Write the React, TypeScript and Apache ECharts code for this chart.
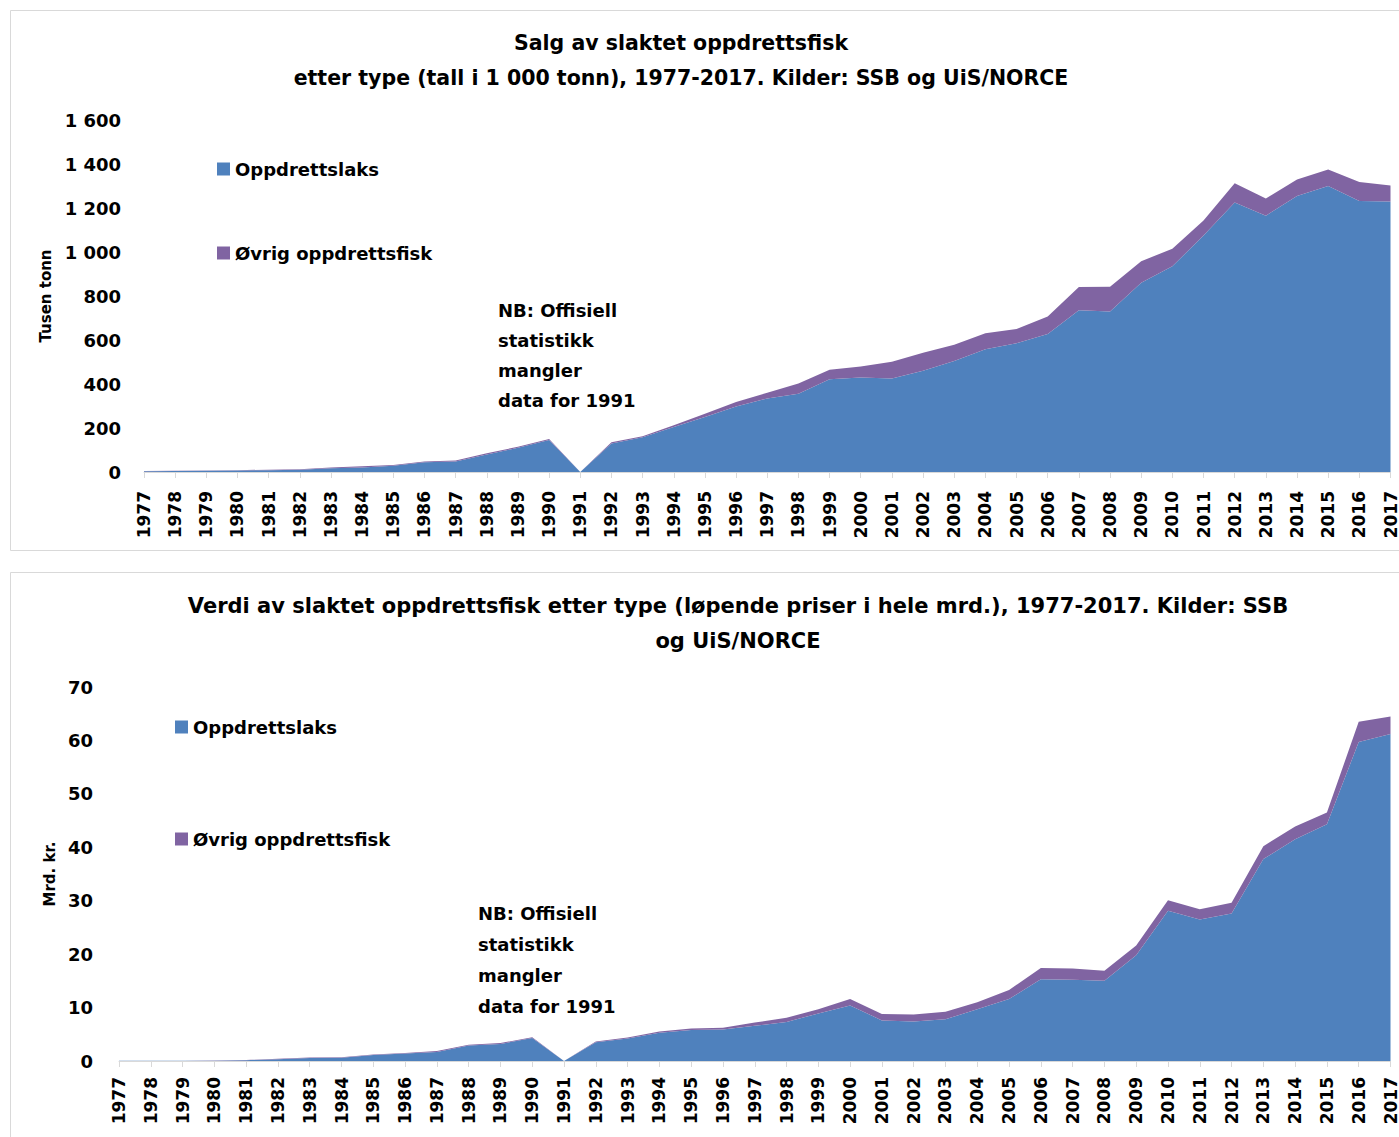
import React, { useEffect, useRef } from "react";
import * as echarts from "echarts";

const years = [
  "1977", "1978", "1979", "1980", "1981", "1982", "1983", "1984", "1985", "1986",
  "1987", "1988", "1989", "1990", "1991", "1992", "1993", "1994", "1995", "1996",
  "1997", "1998", "1999", "2000", "2001", "2002", "2003", "2004", "2005", "2006",
  "2007", "2008", "2009", "2010", "2011", "2012", "2013", "2014", "2015", "2016", "2017",
];

// Salg, 1 000 tonn
const salgLaks = [
  3.5, 4.3, 5.5, 7, 8.5, 10, 17, 21, 28, 44,
  48, 80, 110, 145, 0, 130, 158, 205, 250, 298,
  334, 356, 422, 430, 425, 460, 505, 558, 585, 627,
  735, 730, 860, 935, 1075, 1225, 1165, 1255, 1300, 1232, 1230,
];
const salgOvrig = [
  1, 1, 1.5, 1.5, 2, 2.5, 4, 5, 4, 4,
  4, 5, 5, 5, 0, 5, 5, 8, 15, 20,
  26, 46, 43, 49, 76, 82, 73, 73, 65, 80,
  106, 112, 98, 80, 68, 88, 78, 74, 75, 86, 72,
];

// Verdi, mrd. kr
const verdiLaks = [
  0.03, 0.04, 0.05, 0.07, 0.15, 0.35, 0.55, 0.6, 1.1, 1.4,
  1.7, 2.9, 3.2, 4.3, 0, 3.5, 4.2, 5.3, 5.8, 5.9,
  6.6, 7.3, 8.9, 10.4, 7.6, 7.4, 7.8, 9.7, 11.6, 15.3,
  15.2, 15.0, 19.8, 28.1, 26.5, 27.6, 37.8, 41.5, 44.3, 59.7, 61.2,
];
const verdiOvrig = [
  0.01, 0.01, 0.02, 0.03, 0.05, 0.08, 0.12, 0.12, 0.12, 0.12,
  0.15, 0.15, 0.15, 0.15, 0, 0.15, 0.2, 0.2, 0.3, 0.3,
  0.6, 0.8, 0.8, 1.2, 1.2, 1.3, 1.4, 1.3, 1.7, 2.1,
  2.1, 1.9, 1.8, 2.0, 1.9, 2.0, 2.4, 2.4, 2.2, 3.8, 3.3,
];

const seriesNames = ["Oppdrettslaks", "Øvrig oppdrettsfisk"];
const colors = ["#4F81BD", "#8064A2"];

const FONT = "DejaVu Sans";

export default function App() {
  const ref = useRef<HTMLDivElement>(null);

  useEffect(() => {
    if (!ref.current) return;
    const chart = echarts.init(ref.current, null, { renderer: "svg" });

    const fmtThousands = (v: number) =>
      String(v).replace(/\B(?=(\d{3})+(?!\d))/g, " ");

    const xAxisCommon = (margin: number) => ({
      type: "category" as const,
      data: years,
      boundaryGap: false,
      axisLine: { lineStyle: { color: "#d9d9d9", width: 1 } },
      axisTick: { show: true, length: 6, lineStyle: { color: "#d9d9d9" } },
      axisLabel: {
        rotate: 90,
        interval: 0,
        color: "#000",
        fontFamily: FONT,
        fontWeight: "bold" as const,
        fontSize: 17,
        margin,
      },
    });

    const areaSeries = (name: string, data: number[], color: string, idx: number, stack: string) => ({
      name,
      type: "line" as const,
      stack,
      data,
      xAxisIndex: idx,
      yAxisIndex: idx,
      showSymbol: false,
      symbol: "none",
      lineStyle: { width: 0 },
      itemStyle: { color },
      areaStyle: { color, opacity: 1 },
    });

    const legendCommon = {
      orient: "vertical" as const,
      icon: "rect",
      itemWidth: 13,
      itemHeight: 13,
      selectedMode: false,
      textStyle: {
        color: "#000",
        fontFamily: FONT,
        fontWeight: "bold" as const,
        fontSize: 18,
      },
      data: seriesNames,
    };

    const noteText = "NB: Offisiell\nstatistikk\nmangler\ndata for 1991";

    chart.setOption({
      animation: false,
      backgroundColor: "#fff",
      grid: [
        { left: 144, right: 4, top: 120, height: 352 },
        { left: 119, right: 0, top: 687, height: 374 },
      ],
      xAxis: [
        { ...xAxisCommon(19), gridIndex: 0 },
        { ...xAxisCommon(16), gridIndex: 1 },
      ],
      yAxis: [
        {
          type: "value",
          gridIndex: 0,
          min: 0,
          max: 1600,
          interval: 200,
          splitLine: { show: false },
          axisLine: { show: false },
          axisTick: { show: false },
          axisLabel: {
            color: "#000",
            fontFamily: FONT,
            fontWeight: "bold",
            fontSize: 18,
            margin: 23,
            formatter: (v: number) => fmtThousands(v),
          },
          name: "Tusen tonn",
          nameLocation: "middle",
          nameRotate: 90,
          nameGap: 90,
          nameTextStyle: { color: "#000", fontFamily: FONT, fontWeight: "bold", fontSize: 15 },
        },
        {
          type: "value",
          gridIndex: 1,
          min: 0,
          max: 70,
          interval: 10,
          splitLine: { show: false },
          axisLine: { show: false },
          axisTick: { show: false },
          axisLabel: {
            color: "#000",
            fontFamily: FONT,
            fontWeight: "bold",
            fontSize: 18,
            margin: 26,
          },
          name: "Mrd. kr.",
          nameLocation: "middle",
          nameRotate: 90,
          nameGap: 61,
          nameTextStyle: { color: "#000", fontFamily: FONT, fontWeight: "bold", fontSize: 15 },
        },
      ],
      legend: [
        { ...legendCommon, left: 212, top: 155, itemGap: 66 },
        { ...legendCommon, left: 170, top: 713, itemGap: 94 },
      ],
      series: [
        areaSeries(seriesNames[0], salgLaks, colors[0], 0, "salg"),
        areaSeries(seriesNames[1], salgOvrig, colors[1], 0, "salg"),
        areaSeries(seriesNames[0], verdiLaks, colors[0], 1, "verdi"),
        areaSeries(seriesNames[1], verdiOvrig, colors[1], 1, "verdi"),
      ],
      graphic: [
        {
          type: "rect",
          z: -1,
          shape: { x: 10.5, y: 10.5, width: 1400, height: 540 },
          style: { fill: "none", stroke: "#d9d9d9", lineWidth: 1 },
        },
        {
          type: "rect",
          z: -1,
          shape: { x: 10.5, y: 572.5, width: 1400, height: 600 },
          style: { fill: "none", stroke: "#d9d9d9", lineWidth: 1 },
        },
        {
          type: "text",
          x: 681,
          y: 25,
          style: {
            text: "Salg av slaktet oppdrettsfisk\netter type (tall i 1 000 tonn), 1977-2017. Kilder: SSB og UiS/NORCE",
            align: "center",
            verticalAlign: "top",
            fontFamily: FONT,
            fontWeight: "bold",
            fontSize: 20.5,
            lineHeight: 35,
            fill: "#000",
          },
        },
        {
          type: "text",
          x: 738,
          y: 588,
          style: {
            text: "Verdi av slaktet oppdrettsfisk etter type (løpende priser i hele mrd.), 1977-2017. Kilder: SSB\nog UiS/NORCE",
            align: "center",
            verticalAlign: "top",
            fontFamily: FONT,
            fontWeight: "bold",
            fontSize: 21,
            lineHeight: 35,
            fill: "#000",
          },
        },
        {
          type: "text",
          x: 498,
          y: 295,
          style: {
            text: noteText,
            fontFamily: FONT,
            fontWeight: "bold",
            fontSize: 18,
            lineHeight: 30,
            fill: "#000",
          },
        },
        {
          type: "text",
          x: 478,
          y: 898,
          style: {
            text: noteText,
            fontFamily: FONT,
            fontWeight: "bold",
            fontSize: 18,
            lineHeight: 31,
            fill: "#000",
          },
        },
      ],
    });

    return () => chart.dispose();
  }, []);

  return (
    <div
      ref={ref}
      style={{ position: "absolute", left: 0, top: 0, width: 1399, height: 1137 }}
    />
  );
}
